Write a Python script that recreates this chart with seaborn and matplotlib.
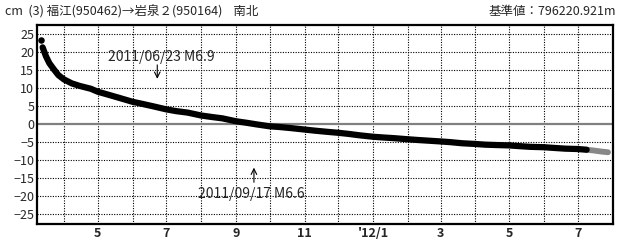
import pandas as pd
import numpy as np
import matplotlib
matplotlib.use("Agg")
import matplotlib.pyplot as plt
import seaborn as sns

# displacement (cm)
dates = ["2011-03-13", "2011-03-16", "2011-03-19", "2011-03-23", "2011-03-27",
         "2011-04-01", "2011-04-08", "2011-04-15", "2011-04-25", "2011-05-01",
         "2011-05-10", "2011-05-20", "2011-06-01", "2011-06-10", "2011-06-20",
         "2011-07-01", "2011-07-10", "2011-07-20", "2011-08-01", "2011-08-10",
         "2011-08-20", "2011-09-01", "2011-09-10", "2011-09-20", "2011-10-01",
         "2011-10-10", "2011-10-20", "2011-11-01", "2011-11-10", "2011-11-20",
         "2011-12-01", "2011-12-10", "2011-12-20", "2012-01-01", "2012-01-10",
         "2012-01-20", "2012-02-01", "2012-02-10", "2012-02-20", "2012-03-01",
         "2012-03-10", "2012-03-20", "2012-04-01", "2012-04-10", "2012-04-20",
         "2012-05-01", "2012-05-10", "2012-05-20", "2012-06-01", "2012-06-10",
         "2012-06-20", "2012-07-01", "2012-07-09"]
values = [21.3, 18.8, 16.9, 15.2, 13.6,
          12.4, 11.3, 10.6, 9.8, 9.0,
          8.2, 7.3, 6.2, 5.6, 4.9,
          4.1, 3.6, 3.2, 2.4, 2.0,
          1.6, 0.8, 0.4, -0.1, -0.6,
          -0.8, -1.1, -1.5, -1.8, -2.1,
          -2.4, -2.7, -3.1, -3.5, -3.7,
          -3.9, -4.2, -4.4, -4.6, -4.8,
          -5.0, -5.3, -5.5, -5.7, -5.8,
          -5.9, -6.1, -6.3, -6.4, -6.6,
          -6.8, -6.9, -7.1]

# first isolated point right after the quake
first_date = ["2011-03-12"]
first_value = [23.2]

# preliminary values (grey)
prelim_dates = ["2012-07-09", "2012-07-15", "2012-07-22", "2012-07-28"]
prelim_values = [-7.1, -7.3, -7.6, -7.8]

yticks = [25, 20, 15, 10, 5, 0, -5, -10, -15, -20, -25]
xtick_dates = ["2011-05-01", "2011-07-01", "2011-09-01", "2011-11-01",
               "2012-01-01", "2012-03-01", "2012-05-01", "2012-07-01"]
xtick_labels = ["5", "7", "9", "11", "'12/1", "3", "5", "7"]

quakes = ["2011-06-23", "2011-09-17"]
quake_labels = ["2011/06/23 M6.9", "2011/09/17 M6.6"]

sns.set_style("white")
plt.rcParams['font.family'] = ['Noto Sans CJK JP', 'DejaVu Sans']

df = pd.DataFrame({"date": pd.to_datetime(dates), "value": values})
df_first = pd.DataFrame({"date": pd.to_datetime(first_date), "value": first_value})
df_pre = pd.DataFrame({"date": pd.to_datetime(prelim_dates), "value": prelim_values})

fig = plt.figure(figsize=(6.24, 2.41), dpi=100)
ax = fig.add_axes([37 / 624, 1 - 224 / 241, (612.5 - 37) / 624, (224 - 25) / 241])

# grid: dotted months / every 5 cm, solid grey zero line
months = pd.date_range("2011-04-01", "2012-07-01", freq="MS")
for m in months:
    ax.axvline(m, color="black", linestyle=(0, (1, 1.3)), linewidth=0.8, zorder=1)
for y in yticks:
    if y == 0:
        ax.axhline(0, color="#808080", linewidth=1.6, zorder=1)
    else:
        ax.axhline(y, color="black", linestyle=(0, (1, 1.3)), linewidth=0.8, zorder=1)

sns.lineplot(data=df_pre, x="date", y="value", ax=ax, color="#888888",
             linewidth=4.2, solid_capstyle="round", zorder=3)
sns.lineplot(data=df, x="date", y="value", ax=ax, color="black",
             linewidth=4.5, solid_capstyle="round", zorder=4)
sns.scatterplot(data=df_first, x="date", y="value", ax=ax, color="black",
                s=22, edgecolor="none", zorder=4)

ax.set_xlim(pd.Timestamp("2011-03-08"), pd.Timestamp("2012-08-01"))
ax.set_ylim(-27.7, 27.5)
ax.set_yticks(yticks)
ax.set_yticklabels([str(v).replace("-", "−") for v in yticks], fontsize=9)
ax.set_xticks(pd.to_datetime(xtick_dates))
ax.set_xticklabels(xtick_labels, fontsize=9, fontweight="bold")
ax.tick_params(axis="both", length=0, pad=2)
ax.set_xlabel("")
ax.set_ylabel("")
for side in ["top", "right", "bottom", "left"]:
    ax.spines[side].set_color("black")
    ax.spines[side].set_linewidth(1.6)

# earthquake annotations
q1 = pd.Timestamp(quakes[0])
ax.annotate("", xy=(q1, 11.8), xytext=(q1, 17.2),
            arrowprops=dict(arrowstyle="->", color="black", lw=0.8))
ax.text(pd.Timestamp("2011-05-10"), 18.6, quake_labels[0], fontsize=10,
        ha="left", va="center", zorder=5)
q2 = pd.Timestamp(quakes[1])
ax.annotate("", xy=(q2, -11.3), xytext=(q2, -16.9),
            arrowprops=dict(arrowstyle="->", color="black", lw=0.8))
ax.text(pd.Timestamp("2011-07-29"), -19.4, quake_labels[1], fontsize=10,
        ha="left", va="center", zorder=5)

fig.text(5 / 624, 1 - 12 / 241, "cm  (3) 福江(950462)→岩泉２(950164)    南北",
         fontsize=9, ha="left", va="center")
fig.text(616 / 624, 1 - 12 / 241, "基準値：796220.921m",
         fontsize=9, ha="right", va="center")

fig.savefig("out.png", dpi=100)
